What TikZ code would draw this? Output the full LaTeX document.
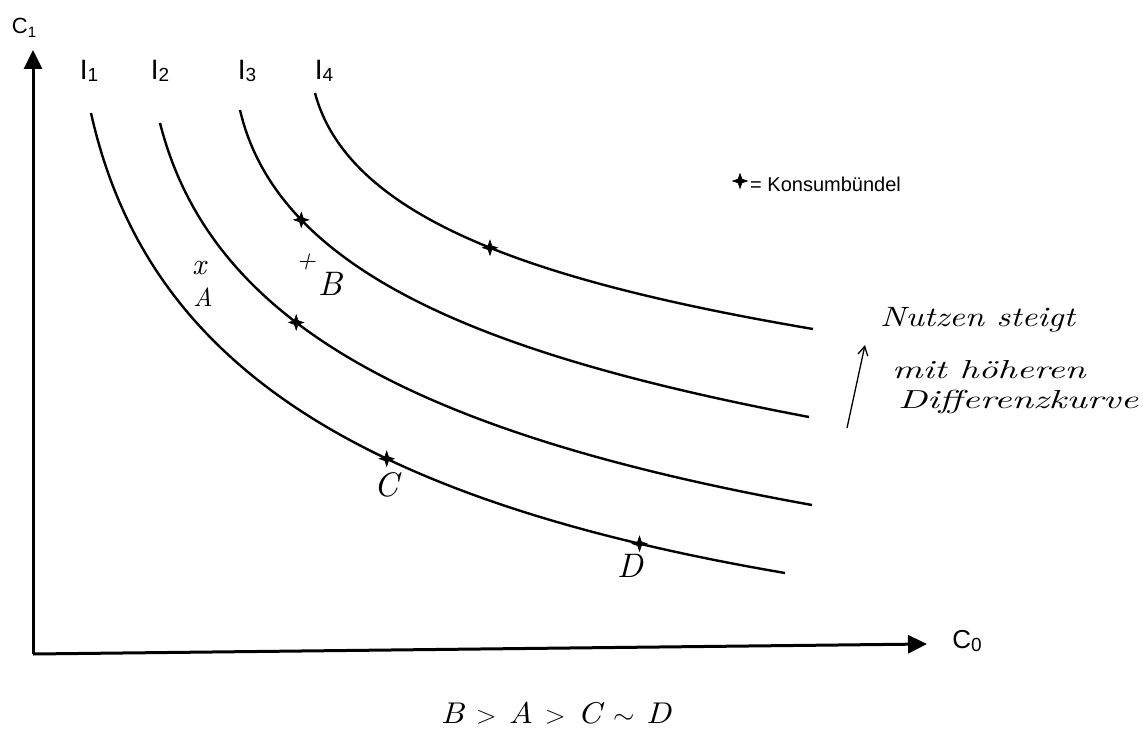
\documentclass[tikz,border=0pt]{standalone}
\usepackage{fontspec}
\setmainfont{Liberation Sans}
\newfontfamily\hand{lmroman10-italic}[Extension=.otf]
\usetikzlibrary{arrows.meta,shapes.geometric}
\begin{document}
\begin{tikzpicture}[x=1pt,y=-1pt,
  axis/.style={line width=3pt,-{Triangle[length=19pt,width=18pt]}},
  curve/.style={line width=2.4pt},
  bundle/.style={star,star points=4,star point ratio=2.8,fill=black,draw=black,line width=0.6pt,minimum size=15pt,inner sep=0pt},
  ilbl/.style={font=\fontsize{28}{30}\selectfont,inner sep=0pt},
  hw/.style={font=\hand\fontsize{26}{28}\selectfont,inner sep=0pt},
  hwarrow/.style={line width=1.3pt,-{Straight Barb[length=9pt,width=10pt]}}]
\useasboundingbox (0,0) rectangle (1143,733);
% axes
\coordinate (O) at (33,654);
\coordinate (ytip) at (33,50);
\coordinate (xtip) at (927,644);
\draw[axis] (O) -- (ytip);
\draw[axis] (O) -- (xtip);
\node[font=\fontsize{22}{24}\selectfont,inner sep=0pt] (c1) at (24,28) {C\raisebox{-0.3ex}{\fontsize{15}{17}\selectfont 1}};
\node[font=\fontsize{26}{28}\selectfont,inner sep=0pt] (c0) at (967,641) {C\raisebox{-0.2ex}{\fontsize{19}{21}\selectfont 0}};
% indifference curves
\draw[curve] (91,113) .. controls (146.3,361.5) and (354.5,499.5) .. (785,573)
  node[bundle,pos=0.62] (sC) {} node[bundle,pos=0.88] (sD) {};
\draw[curve] (160,123) .. controls (209.3,317.6) and (404.9,431.8) .. (812,505)
  node[bundle,pos=0.405] (s2) {};
\draw[curve] (240,110) .. controls (278.7,276.5) and (496.6,357.7) .. (809,417)
  node[bundle,pos=0.25] (s3) {};
\draw[curve] (315,93) .. controls (348.8,219.8) and (539.6,282.5) .. (813,329)
  node[bundle,pos=0.53] (s4) {};
% curve labels
\node[ilbl] (i1) at (89,71) {I\raisebox{-0.15ex}{\fontsize{19}{21}\selectfont 1}};
\node[ilbl] (i2) at (160,71) {I\raisebox{-0.15ex}{\fontsize{19}{21}\selectfont 2}};
\node[ilbl] (i3) at (247,71) {I\raisebox{-0.15ex}{\fontsize{19}{21}\selectfont 3}};
\node[ilbl] (i4) at (324,71) {I\raisebox{-0.15ex}{\fontsize{19}{21}\selectfont 4}};
% legend
\node[bundle] (leg) at (740,181) {};
\node[font=\fontsize{20}{22}\selectfont,anchor=west,inner sep=0pt] (legtext) at (750,184) {= Konsumbündel};
% handwritten marks
\node[hw,font=\hand\fontsize{30}{32}\selectfont] (xA) at (199,268) {x};
\node[hw] (lA) at (203,297) {A};
\node[hw] (pB) at (306,262) {+};
\node[hw,font=\hand\fontsize{34}{36}\selectfont] (lB) at (330,284) {B};
\node[hw,font=\hand\fontsize{34}{36}\selectfont] (lC) at (386,485) {C};
\node[hw,font=\hand\fontsize{34}{36}\selectfont] (lD) at (630,566) {D};
\node[hw,font=\hand\fontsize{28}{30}\selectfont,anchor=west] (t1) at (880,320) {\scalebox{1.22}[1]{Nutzen steigt}};
\node[hw,anchor=west] (t2) at (892,370) {\scalebox{1.43}[1]{mit höheren}};
\node[hw,anchor=west] (t3) at (898,402) {\scalebox{1.47}[1]{Differenzkurve}};
\coordinate (ua) at (847,428);
\coordinate (ub) at (865,345);
\draw[hwarrow] (ua) -- (ub);
\node[hw,font=\hand\fontsize{30}{32}\selectfont] (order) at (556,713) {\scalebox{1.1}[1]{B $>$ A $>$ C $\sim$ D}};
\end{tikzpicture}
\end{document}
